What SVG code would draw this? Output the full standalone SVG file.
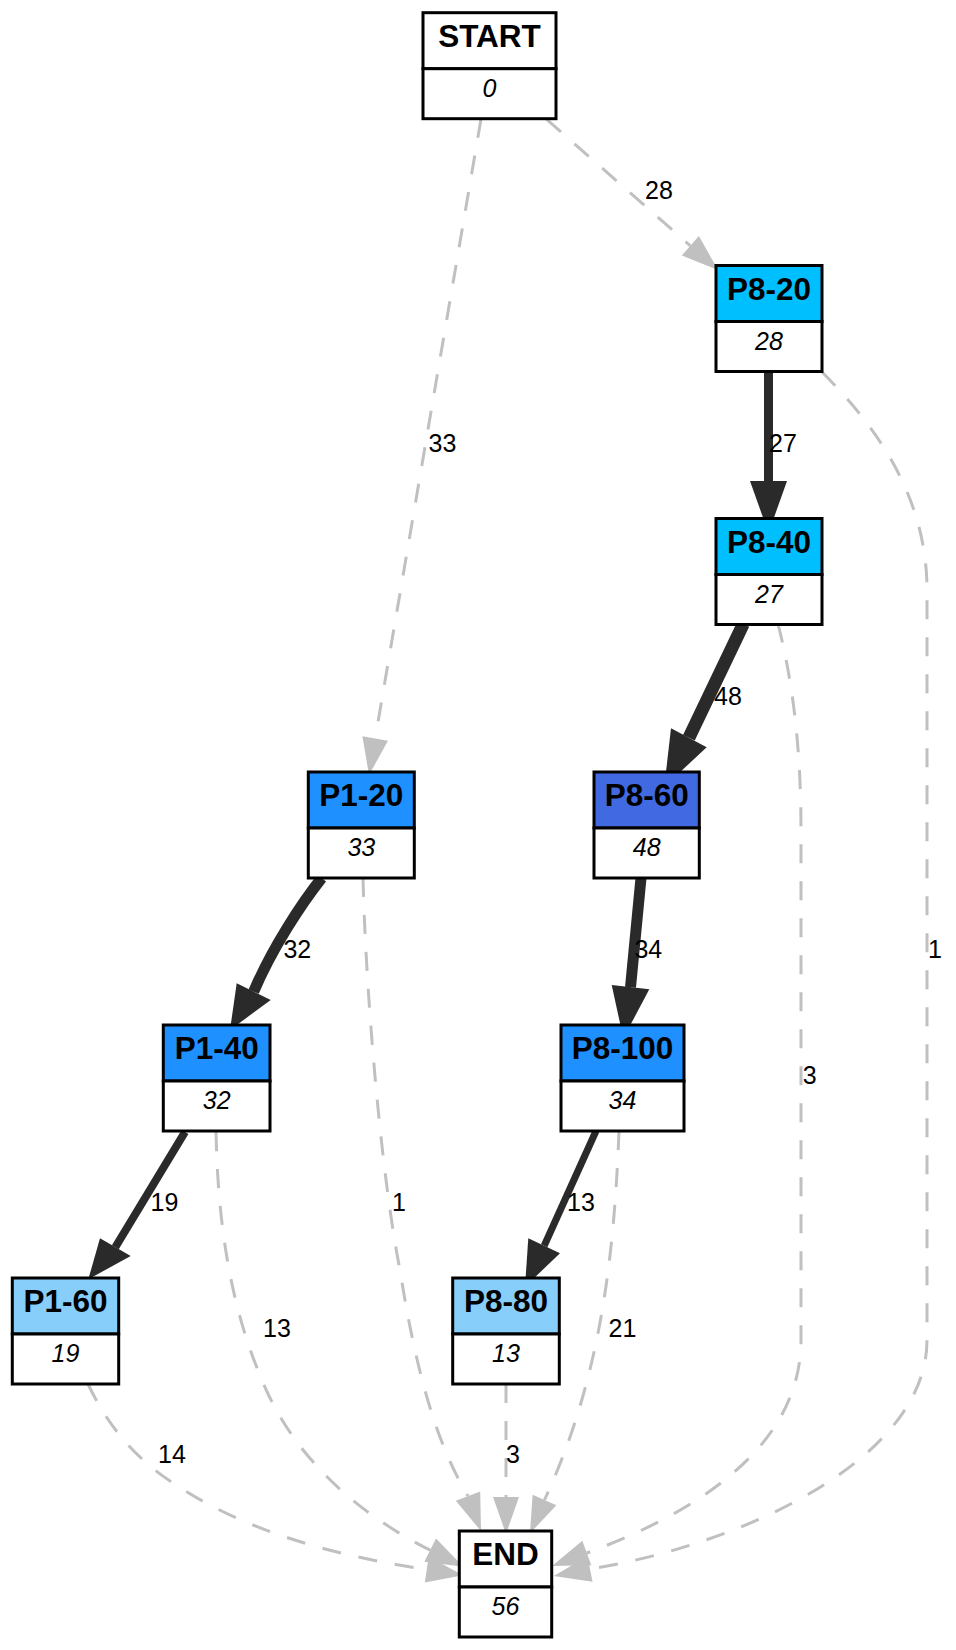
<svg xmlns="http://www.w3.org/2000/svg" width="956" height="1650" viewBox="0 0 956 1650">
  <style>
    .node rect { stroke: #000; stroke-width: 3; }
    .hd { font-family: "Liberation Sans", Arial, sans-serif; font-weight: bold; font-size: 31.5px; text-anchor: middle; fill: #000; }
    .ct { font-family: "Liberation Sans", Arial, sans-serif; font-style: italic; font-size: 25px; text-anchor: middle; fill: #000; }
    .lbl { font-family: "Liberation Sans", Arial, sans-serif; font-size: 25px; text-anchor: middle; fill: #000; }
    .dash { fill: none; stroke: #c0c0c0; stroke-width: 3; stroke-dasharray: 19 18; }
    .dhead { fill: #c0c0c0; stroke: none; }
    .flow { fill: none; stroke: #2a2a2a; }
    .fhead { fill: #2a2a2a; stroke: none; }
  </style>

  <rect width="956" height="1650" fill="#fff"/>

  <!-- connectors -->
  <g id="edges">
    <!-- START -> P1-20 -->
    <path class="dash" d="M481,119 L375.2,738.5"/>
    <polygon class="dhead" points="388,740.7 362.4,736.3 369,775"/>
    <text class="lbl" x="442.5" y="451.7">33</text>

    <!-- START -> P8-20 -->
    <path class="dash" d="M546.7,119.3 L690.3,245.8"/>
    <polygon class="dhead" points="681.8,255.6 698.9,236 718,270"/>
    <text class="lbl" x="659" y="199.3">28</text>

    <!-- P8-20 -> P8-40 -->
    <path class="flow" stroke-width="9" d="M768.5,372 L768.5,482"/>
    <polygon class="fhead" points="750,481 787,481 768.5,533"/>
    <text class="lbl" x="783" y="451.7">27</text>

    <!-- P8-20 -> END -->
    <path class="dash" d="M822,372 C880,430 927,500 927,590 L927,1340 C927,1460 740,1545 590,1569"/>
    <polygon class="dhead" points="592.5,1581.7 587.5,1556.3 553.7,1576"/>
    <text class="lbl" x="935" y="957.5">1</text>

    <!-- P8-40 -> P8-60 -->
    <path class="flow" stroke-width="13" d="M743.3,624 L688.9,737.8"/>
    <polygon class="fhead" points="671,728.3 706.7,747.3 664.3,786.7"/>
    <text class="lbl" x="728" y="705">48</text>

    <!-- P8-40 -> END -->
    <path class="dash" d="M778,624 C795,690 801,760 801,830 L801,1340 C801,1450 690,1515 586.8,1553"/>
    <polygon class="dhead" points="591.3,1565.2 582.3,1540.8 552,1566"/>
    <text class="lbl" x="809.7" y="1084">3</text>

    <!-- P1-20 -> P1-40 -->
    <path class="flow" stroke-width="11" d="M321.7,878 C302,903 272,948 253.7,991.7"/>
    <polygon class="fhead" points="236.7,983.3 270.7,1000 230,1030"/>
    <text class="lbl" x="297.3" y="957.5">32</text>

    <!-- P1-20 -> END -->
    <path class="dash" d="M363,878 C366,1000 382,1180 400,1270 C414,1360 434,1440 468,1496"/>
    <polygon class="dhead" points="480.2,1491.6 455.8,1500.8 481,1531"/>
    <text class="lbl" x="399" y="1210.7">1</text>

    <!-- P8-60 -> P8-100 -->
    <path class="flow" stroke-width="11" d="M641,878 L630.5,987.2"/>
    <polygon class="fhead" points="611.7,985 649.3,989.3 623.3,1038.3"/>
    <text class="lbl" x="648.3" y="957.5">34</text>

    <!-- P1-40 -> P1-60 -->
    <path class="flow" stroke-width="8" d="M185,1132 L115.3,1247.2"/>
    <polygon class="fhead" points="100,1238.3 130.7,1256 88.3,1279.3"/>
    <text class="lbl" x="164.5" y="1210.7">19</text>

    <!-- P1-40 -> END -->
    <path class="dash" d="M216,1132 C218,1230 232,1310 262,1380 C290,1450 350,1510 430.2,1550.2"/>
    <polygon class="dhead" points="424.4,1561.8 436,1538.6 463.3,1566.7"/>
    <text class="lbl" x="277" y="1336.7">13</text>

    <!-- P8-100 -> P8-80 -->
    <path class="flow" stroke-width="7" d="M596,1131 L544.2,1245.8"/>
    <polygon class="fhead" points="528.3,1238.3 560,1253.3 525,1286.7"/>
    <text class="lbl" x="581" y="1210.7">13</text>

    <!-- P8-100 -> END -->
    <path class="dash" d="M619,1131 C614,1260 600,1380 544.5,1500"/>
    <polygon class="dhead" points="556.4,1505.2 532.6,1494.8 530,1533.3"/>
    <text class="lbl" x="622.5" y="1336.7">21</text>

    <!-- P1-60 -> END -->
    <path class="dash" d="M88,1384 C105,1420 130,1455 173,1483 C250,1535 345,1557 426.7,1569.7"/>
    <polygon class="dhead" points="424.8,1582.5 428.7,1556.8 463,1575.3"/>
    <text class="lbl" x="172" y="1463.3">14</text>

    <!-- P8-80 -> END -->
    <path class="dash" d="M506,1384 L506,1497"/>
    <polygon class="dhead" points="493,1497 519,1497 506,1534"/>
    <text class="lbl" x="513" y="1463.3">3</text>
  </g>

  <!-- nodes: header cell with name, lower cell with count -->
  <g id="node-START" class="node">
    <rect x="423" y="12.7" width="133" height="56" fill="#fff"/>
    <rect x="423" y="68.7" width="133" height="50" fill="#fff"/>
    <text class="hd" x="489.5" y="47">START</text>
    <text class="ct" x="489.5" y="97">0</text>
  </g>

  <g id="node-P8-20" class="node">
    <rect x="716" y="265.5" width="106" height="56" fill="#00bfff"/>
    <rect x="716" y="321.5" width="106" height="50" fill="#fff"/>
    <text class="hd" x="769" y="299.8">P8-20</text>
    <text class="ct" x="769" y="349.8">28</text>
  </g>

  <g id="node-P8-40" class="node">
    <rect x="716" y="518.5" width="106" height="56" fill="#00bfff"/>
    <rect x="716" y="574.5" width="106" height="50" fill="#fff"/>
    <text class="hd" x="769" y="552.8">P8-40</text>
    <text class="ct" x="769" y="602.8">27</text>
  </g>

  <g id="node-P1-20" class="node">
    <rect x="308.3" y="772" width="106" height="56" fill="#1e90ff"/>
    <rect x="308.3" y="828" width="106" height="50" fill="#fff"/>
    <text class="hd" x="361.3" y="806.3">P1-20</text>
    <text class="ct" x="361.3" y="856.3">33</text>
  </g>

  <g id="node-P8-60" class="node">
    <rect x="594" y="772" width="105.3" height="56" fill="#4169e1"/>
    <rect x="594" y="828" width="105.3" height="50" fill="#fff"/>
    <text class="hd" x="646.7" y="806.3">P8-60</text>
    <text class="ct" x="646.7" y="856.3">48</text>
  </g>

  <g id="node-P1-40" class="node">
    <rect x="163.3" y="1025" width="106.7" height="56" fill="#1e90ff"/>
    <rect x="163.3" y="1081" width="106.7" height="50" fill="#fff"/>
    <text class="hd" x="216.7" y="1059.3">P1-40</text>
    <text class="ct" x="216.7" y="1109.3">32</text>
  </g>

  <g id="node-P8-100" class="node">
    <rect x="561" y="1025" width="123" height="56" fill="#1e90ff"/>
    <rect x="561" y="1081" width="123" height="50" fill="#fff"/>
    <text class="hd" x="622.5" y="1059.3">P8-100</text>
    <text class="ct" x="622.5" y="1109.3">34</text>
  </g>

  <g id="node-P1-60" class="node">
    <rect x="12.3" y="1278" width="106.4" height="56" fill="#87cefa"/>
    <rect x="12.3" y="1334" width="106.4" height="50" fill="#fff"/>
    <text class="hd" x="65.5" y="1312.3">P1-60</text>
    <text class="ct" x="65.5" y="1362.3">19</text>
  </g>

  <g id="node-P8-80" class="node">
    <rect x="452.7" y="1278" width="106.6" height="56" fill="#87cefa"/>
    <rect x="452.7" y="1334" width="106.6" height="50" fill="#fff"/>
    <text class="hd" x="506" y="1312.3">P8-80</text>
    <text class="ct" x="506" y="1362.3">13</text>
  </g>

  <g id="node-END" class="node">
    <rect x="459.3" y="1531" width="92.4" height="56" fill="#fff"/>
    <rect x="459.3" y="1587" width="92.4" height="50" fill="#fff"/>
    <text class="hd" x="505.5" y="1565.3">END</text>
    <text class="ct" x="505.5" y="1615.3">56</text>
  </g>
</svg>
